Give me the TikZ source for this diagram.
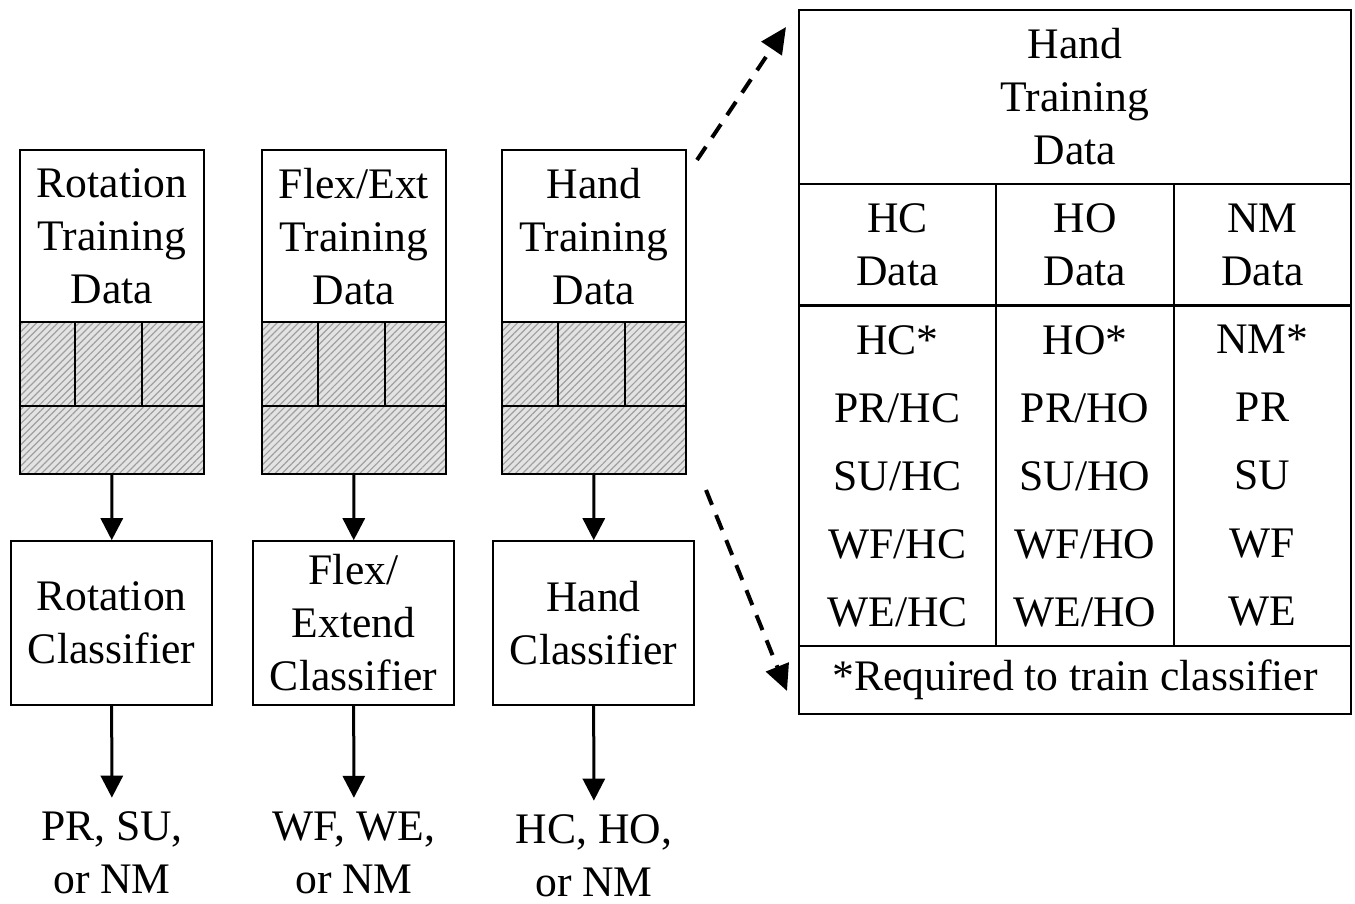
\documentclass[tikz,border=0pt]{standalone}
\usepackage{fontspec}
\setmainfont{Liberation Serif}
\usetikzlibrary{patterns.meta,arrows.meta}
\begin{document}
\begin{tikzpicture}[x=1pt,y=-1pt,
  lbl/.style={align=center,inner sep=2pt,font=\fontsize{43.6}{53}\selectfont},
  box/.style={lbl,draw,line width=1.6pt,inner sep=0pt},
  cell/.style={draw,line width=1.6pt,inner sep=0pt,align=center},
  hatch/.style={draw,line width=1.6pt,inner sep=0pt,preaction={fill=gray!22},
    pattern={Lines[angle=45,distance=5pt,line width=1.2pt]},pattern color=gray!75},
  arr/.style={line width=3pt,-{Triangle[length=22pt,width=22pt]}},
  darr/.style={line width=4pt,dash pattern=on 16pt off 11pt,-{Triangle[length=26pt,width=24pt]}}]
\useasboundingbox (0,0) rectangle (1355,904);

% ---------- column 1 ----------
\node[box,minimum width=184pt,minimum height=173pt] (t1) at (112,236.5) {Rotation\\Training\\Data};
\node[hatch,minimum width=184pt,minimum height=84pt] (u1) at (112,364) {};
\node[hatch,minimum width=184pt,minimum height=68pt] (h1) at (112,440) {};
\draw[line width=1.6pt] (75,322) -- (75,406) (142,322) -- (142,406);
\node[box,minimum width=201pt,minimum height=164pt] (k1) at (111.5,623) {Rotation\\Classifier};
\node[lbl] (o1) at (112,853) {PR, SU,\\or NM};
\draw[arr] (h1) -- (k1);
\draw[arr,shorten >=12pt] (k1) -- (o1);

% ---------- column 2 ----------
\node[box,minimum width=184pt,minimum height=173pt] (t2) at (354,236.5) {Flex/Ext\\Training\\Data};
\node[hatch,minimum width=184pt,minimum height=84pt] (u2) at (354,364) {};
\node[hatch,minimum width=184pt,minimum height=68pt] (h2) at (354,440) {};
\draw[line width=1.6pt] (318,322) -- (318,406) (385,322) -- (385,406);
\node[box,minimum width=201pt,minimum height=164pt] (k2) at (353.5,623) {Flex/\\Extend\\Classifier};
\node[lbl] (o2) at (354,853) {WF, WE,\\or NM};
\draw[arr] (h2) -- (k2);
\draw[arr,shorten >=12pt] (k2) -- (o2);

% ---------- column 3 ----------
\node[box,minimum width=184pt,minimum height=173pt] (t3) at (594,236.5) {Hand\\Training\\Data};
\node[hatch,minimum width=184pt,minimum height=84pt] (u3) at (594,364) {};
\node[hatch,minimum width=184pt,minimum height=68pt] (h3) at (594,440) {};
\draw[line width=1.6pt] (558,322) -- (558,406) (625,322) -- (625,406);
\node[box,minimum width=201pt,minimum height=164pt] (k3) at (593.5,623) {Hand\\Classifier};
\node[lbl] (o3) at (594,856) {HC, HO,\\or NM};
\draw[arr] (h3) -- (k3);
\draw[arr,shorten >=12pt] (k3) -- (o3);

% ---------- right table ----------
\node[box,minimum width=552pt,minimum height=174pt] (th) at (1075,97) {Hand\\Training\\Data};
\node[box,minimum width=197pt,minimum height=121pt] (ca) at (897.5,244.5) {HC\\Data};
\node[box,minimum width=178pt,minimum height=121pt] (cb) at (1085,244.5) {HO\\Data};
\node[box,minimum width=177pt,minimum height=121pt] (cc) at (1262.5,244.5) {NM\\Data};
\node[cell,minimum width=197pt,minimum height=340pt,font=\fontsize{43.6}{68}\selectfont] (la) at (897.5,476) {HC*\\PR/HC\\SU/HC\\WF/HC\\WE/HC};
\node[cell,minimum width=178pt,minimum height=340pt,font=\fontsize{43.6}{68}\selectfont] (lb) at (1085,476) {HO*\\PR/HO\\SU/HO\\WF/HO\\WE/HO};
\node[cell,minimum width=177pt,minimum height=340pt,font=\fontsize{43.6}{68}\selectfont] (lc) at (1262.5,476) {NM*\\PR\\SU\\WF\\WE};
\node[box,minimum width=552pt,minimum height=68pt] (ft) at (1075,680) {*Required to train classifier};

% ---------- dashed zoom arrows ----------
\coordinate (ds1) at (697,160);
\coordinate (de1) at (786,27);
\coordinate (ds2) at (706,490);
\coordinate (de2) at (787,691);
\draw[darr] (ds1) -- (de1);
\draw[darr] (ds2) -- (de2);
\end{tikzpicture}
\end{document}
